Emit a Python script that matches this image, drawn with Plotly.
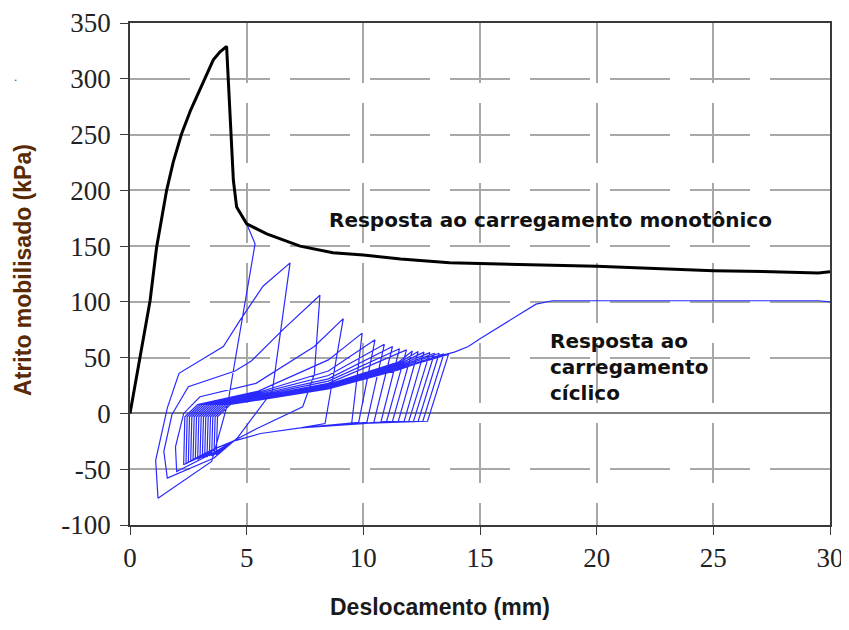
import plotly.graph_objects as go

# ---------------- data ----------------
# monotonic loading response (black)
mono_x = [0, 0.45, 0.86, 1.14, 1.57, 1.85, 2.2, 2.6, 3.0, 3.3, 3.57, 3.85, 4.14,
          4.43, 4.57, 5.0, 5.86, 7.29, 8.7, 10.0, 11.6, 13.7, 16.0, 18.0, 20.0,
          22.5, 25.0, 27.5, 29.5, 30.0]
mono_y = [0, 52, 101, 149, 200, 225, 250, 272, 290, 305, 317, 324, 329,
          209, 185, 170, 161, 150, 144, 142, 138.5, 135, 134, 133, 132,
          130, 128, 127, 126, 127]

# cyclic loading response (blue) - first three large cycles, point by point
c1_x = [5.0, 5.36, 4.5, 4.2, 3.5, 1.2, 1.1, 1.6, 2.1, 4.0, 4.7, 5.7]
c1_y = [170, 152, 47, 10, -43, -76, -42, 5, 36, 60, 83, 114]
c2_x = [6.86, 6.3, 6.1, 4.6, 3.6, 1.6, 1.45, 1.8, 2.5, 4.5, 5.2, 6.6]
c2_y = [135, 47, 20, -22, -40, -58, -34, -1, 24, 38, 47, 76]
c3_x = [8.14, 7.9, 7.4, 5.4, 4.4, 3.6, 2.0, 1.95, 2.3, 3.0, 5.4, 7.9]
c3_y = [106, 35, 6, -14, -25, -35, -52, -30, 0, 15, 27, 60]

# following smaller cycles: peak, foot of unloading branch, minimum
peak_x = [9.14, 9.95, 10.5, 10.9, 11.25, 11.55, 11.85, 12.1, 12.35, 12.6, 12.85, 13.05, 13.25, 13.45, 13.65]
peak_y = [85, 72, 66, 62, 60, 58, 57, 56, 55.5, 55, 54.5, 54, 54, 53.5, 53]
foot_x = [8.36, 9.5, 9.8, 10.15, 10.45, 10.75, 11.0, 11.25, 11.5, 11.75, 11.95, 12.15, 12.35, 12.55, 12.75]
foot_y = [-9, -9, -8, -8, -8, -8, -7, -7, -7, -7, -7, -7, -7, -7, -7]
min_x = [2.3, 2.4, 2.5, 2.6, 2.7, 2.8, 2.9, 3.0, 3.1, 3.2, 3.3, 3.4, 3.5, 3.6, 3.7]
min_y = [-46, -45, -44, -43, -42, -41, -41, -40, -40, -39, -39, -38, -38, -37, -37]
# reloading branch heights at x = 5.5, 8.5 and 11.5
rel_y55 = [20, 19, 18, 17, 16, 15, 15, 14, 14, 13, 13, 13, 12, 12, 12]
rel_y85 = [48, 38, 34, 31, 29, 27, 26, 25, 25, 24, 24, 23, 23, 23, 22]
rel_y115 = [None, None, None, None, None, None, 46, 45, 44, 43, 42, 41, 40, 40, 39]
# lower (unloading) envelope
env_x = [10.0, 7.3, 5.6, 4.4, 3.6, 2.9]
env_y = [-9, -13, -18, -25, -32, -39]
# final monotonic branch after cycling
fin_x = [13.0, 13.9, 14.5, 15.0, 16.0, 17.4, 18.1, 29.5, 30.0]
fin_y = [50, 55, 60, 67, 80, 98, 101, 101, 100]

# axis ticks
x_ticks = [0, 5, 10, 15, 20, 25, 30]
y_ticks = [-100, -50, 0, 50, 100, 150, 200, 250, 300, 350]
y_ticktext = ["-100", "-50", "0", "50", "100", "150", "200", "250", "300", "350"]

# ---------------- build cyclic path ----------------
cx, cy = [], []
for xs, ys in ((c1_x, c1_y), (c2_x, c2_y), (c3_x, c3_y)):
    cx += xs
    cy += ys
n = len(peak_x)
for i in range(n):
    cx.append(peak_x[i]); cy.append(peak_y[i])
    cx.append(foot_x[i]); cy.append(foot_y[i])
    for ex, ey in zip(env_x, env_y):
        if ex < foot_x[i] - 0.3 and ex > min_x[i] + 0.2:
            cx.append(ex); cy.append(ey)
    cx.append(min_x[i]); cy.append(min_y[i])
    cx.append(min_x[i] + 0.05); cy.append(-3)
    cx.append(min_x[i] + 0.6); cy.append(8)
    nxt = peak_x[i + 1] if i + 1 < n else fin_x[1]
    for rx, ry in ((5.5, rel_y55[i]), (8.5, rel_y85[i]), (11.5, rel_y115[i])):
        if ry is not None and rx < nxt - 0.4:
            cx.append(rx); cy.append(ry)
cx += fin_x
cy += fin_y

fig = go.Figure()
fig.add_trace(go.Scatter(x=cx, y=cy, mode="lines",
                         line=dict(color="#2a2aff", width=1.2), hoverinfo="skip"))
fig.add_trace(go.Scatter(x=mono_x, y=mono_y, mode="lines",
                         line=dict(color="black", width=3), hoverinfo="skip"))

axis_common = dict(
    showgrid=True, gridcolor="#a8a8a8", gridwidth=1.6, griddash="60px,20px",
    showline=True, linecolor="#3a3a3a", linewidth=1.5, mirror=True,
    ticks="outside", ticklen=8, tickcolor="#3a3a3a", tickwidth=1.2,
    automargin=False,
    tickfont=dict(family="Liberation Serif, Times New Roman, serif", size=27, color="#222"),
)
fig.update_xaxes(range=[0, 30], tickvals=x_ticks, zeroline=False, **axis_common)
fig.update_yaxes(range=[-100, 350], tickvals=y_ticks, ticktext=y_ticktext, zeroline=True,
                 zerolinecolor="#808080", zerolinewidth=2, ticklabelstandoff=4,
                 **axis_common)

ann_font = dict(family="DejaVu Sans, Arial, sans-serif", size=20, color="#111")
fig.update_layout(
    width=849, height=630,
    margin=dict(l=122, r=27, t=15, b=113),
    paper_bgcolor="white", plot_bgcolor="white",
    showlegend=False,
    annotations=[
        dict(x=8.44, y=173, xref="x", yref="y", text="<b>Resposta ao carregamento monotônico</b>",
             showarrow=False, xanchor="left", yanchor="middle", font=ann_font),
        dict(x=17.9, y=42, xref="x", yref="y",
             text="<b>Resposta ao<br>carregamento<br>cíclico</b>",
             showarrow=False, xanchor="left", yanchor="middle", align="left", font=ann_font),
        dict(x=0.443, y=-0.163, xref="paper", yref="paper", text="<b>Deslocamento (mm)</b>",
             showarrow=False, xanchor="center", yanchor="middle",
             font=dict(family="Liberation Sans, Arial, sans-serif", size=23, color="#1a1a1a")),
        dict(x=-0.153, y=0.508, xref="paper", yref="paper", text="<b>Atrito mobilisado (kPa)</b>",
             showarrow=False, xanchor="center", yanchor="middle", textangle=-90,
             font=dict(family="Liberation Sans, Arial, sans-serif", size=23, color="#5a2a05")),
        dict(x=-0.164, y=0.875, xref="paper", yref="paper", text=".",
             showarrow=False, xanchor="center", yanchor="bottom",
             font=dict(family="Liberation Sans", size=12, color="#444")),
    ],
)

fig.write_html("out.html")
